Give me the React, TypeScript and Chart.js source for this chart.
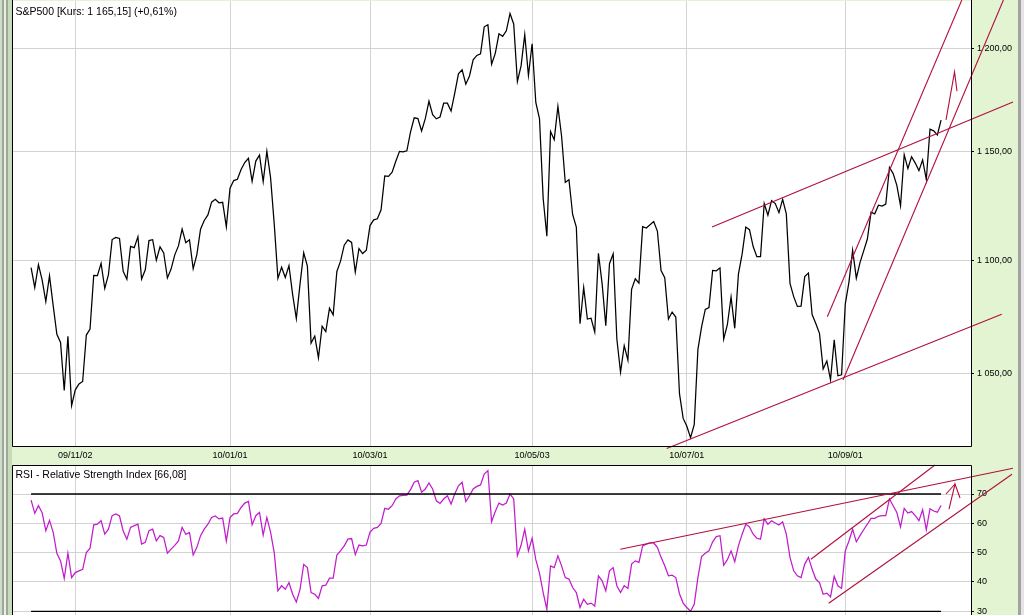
import React, { useEffect, useRef } from "react";
import { Chart, registerables } from "chart.js";

Chart.register(...registerables);

// Daily S&P500 closes, 15 Oct 2009 .. 8 Oct 2010 (index 0 = first trading day shown)
const closes: number[] = [
  1096.56, 1087.68, 1097.91, 1091.06, 1081.4, 1092.91, 1079.6, 1066.95, 1063.41, 1042.63, 1066.11, 1036.19,
  1042.88, 1045.41, 1046.5, 1066.63, 1069.3, 1093.08, 1093.01, 1098.51, 1087.24, 1093.48, 1109.3, 1110.32, 1109.8, 1094.9, 1091.38, 1106.24, 1105.65, 1110.63, 1091.49, 1095.63,
  1108.86, 1109.24, 1099.92, 1105.98, 1103.25, 1091.94, 1095.95, 1102.35, 1106.41, 1114.11, 1107.93, 1109.18, 1096.08, 1102.47, 1114.05, 1118.02, 1120.59, 1126.48, 1127.78, 1126.2, 1126.42, 1115.1,
  1132.99, 1136.52, 1137.14, 1141.69, 1144.98, 1146.98, 1136.22, 1145.68, 1148.46, 1136.03, 1150.23, 1138.04, 1116.48, 1091.76, 1096.78, 1092.17, 1097.5, 1084.53, 1073.87,
  1089.19, 1103.32, 1097.28, 1063.11, 1066.19, 1056.74, 1070.52, 1068.13, 1078.47, 1075.51, 1094.87, 1099.51, 1106.75, 1109.17, 1108.01, 1094.6, 1105.24, 1102.94, 1104.49,
  1115.71, 1118.31, 1118.79, 1122.97, 1138.7, 1138.5, 1140.45, 1145.61, 1150.24, 1149.99, 1150.51, 1159.46, 1166.21, 1165.83, 1159.9, 1165.81, 1174.17, 1167.72, 1165.73, 1166.59, 1173.22, 1173.27, 1169.43,
  1178.1, 1187.44, 1189.44, 1182.45, 1186.44, 1194.37, 1196.48, 1197.3, 1210.65, 1211.67, 1192.13, 1197.52, 1207.17, 1205.94, 1208.67, 1217.28, 1212.05, 1183.71, 1191.36, 1206.78, 1186.69,
  1202.26, 1173.6, 1165.87, 1128.15, 1110.88, 1159.73, 1155.79, 1171.67, 1157.44, 1135.68, 1136.94, 1120.8, 1115.05, 1071.59, 1087.69, 1073.65, 1074.03, 1067.95, 1103.06, 1089.41,
  1070.71, 1098.38, 1102.83, 1064.88, 1050.47, 1062.0, 1055.69, 1086.84, 1091.6, 1089.63, 1115.23, 1114.61, 1116.04, 1117.51, 1113.2, 1095.31, 1092.04, 1073.69, 1076.76, 1074.57, 1041.24, 1030.71,
  1027.37, 1022.58, 1028.06, 1060.27, 1070.25, 1077.96, 1078.75, 1095.34, 1095.17, 1096.48, 1064.88, 1071.25, 1083.48, 1069.59, 1093.67, 1102.66, 1115.01, 1113.84, 1106.13, 1101.53, 1101.6,
  1125.86, 1120.46, 1127.24, 1125.81, 1121.64, 1127.79, 1121.06, 1089.47, 1083.61, 1079.25, 1079.38, 1092.54, 1094.16, 1075.63, 1071.69, 1067.36, 1051.87, 1055.33, 1047.22, 1064.59, 1048.92, 1049.33,
  1080.29, 1090.1, 1104.51, 1091.84, 1098.87, 1104.18, 1109.55, 1121.9, 1121.1, 1125.07, 1124.66, 1125.59, 1142.71, 1139.78, 1134.28, 1124.83, 1148.67, 1142.16, 1147.7, 1144.73, 1141.2,
  1146.24, 1137.03, 1160.75, 1159.97, 1158.06, 1165.15,
];

// RSI values, same day index as closes
const rsiValues: number[] = [
  67.9, 63.4, 66.0, 63.6, 57.5, 61.0, 56.9, 49.8, 47.2, 41.2, 49.8, 41.5,
  43.2, 43.8, 44.3, 50.0, 51.5, 59.5,
  59.7, 60.9, 56.3, 58.0, 62.6, 63.2,
  62.5, 57.4, 54.6, 58.6, 59.2, 59.7,
  52.9, 53.5, 57.5, 58.0, 54.0, 55.8,
  55.2, 49.8, 51.2, 52.5, 54.0, 58.6,
  56.3, 56.8, 49.2, 51.8, 55.8, 58.0,
  59.7, 62.0, 62.5, 61.5, 61.8, 54.0,
  62.0, 63.2, 63.4, 65.4, 66.9, 67.5,
  59.5, 62.6, 63.7, 56.0, 62.0, 57.0,
  50.0, 37.0, 38.7, 37.5, 39.8, 35.8,
  33.2, 37.5, 46.0, 44.9, 36.4, 35.8,
  34.4, 38.7, 38.9, 41.3, 41.3, 49.2,
  50.6, 52.3, 54.6, 54.8, 49.3, 52.6,
  52.3, 52.6, 57.0, 58.3, 58.6, 60.0,
  65.1, 64.8, 66.0, 68.3, 69.4, 69.5,
  69.6, 71.5, 74.0, 74.6, 70.6, 71.7,
  73.8, 71.7, 67.7, 66.8, 68.3, 69.4,
  66.6, 70.0, 72.8, 74.0, 67.4, 69.4,
  71.7, 72.6, 73.1, 76.8, 78.0,
  60.5, 64.0, 66.9, 66.2, 66.9, 70.0,
  68.3, 49.0, 52.5, 58.0, 50.6, 54.9,
  47.6, 43.0, 36.4, 30.7, 45.5, 44.9,
  48.9, 45.5, 41.5, 41.0, 38.1, 36.4,
  31.3, 34.1, 32.4, 32.8, 31.8, 42.1,
  40.4, 37.0, 43.8, 44.9, 38.7, 36.4,
  38.7, 37.8, 46.1, 47.2, 46.7, 52.3,
  52.9, 53.3, 53.3, 51.8, 48.4, 45.5,
  42.1, 42.3, 41.5, 36.0, 32.8, 31.3,
  30.0, 32.4, 41.5, 48.7, 49.8, 50.6,
  53.7, 55.5, 55.8, 45.7, 47.6, 50.6,
  46.9, 52.3, 56.3, 59.7, 58.8, 56.3,
  54.9, 54.6, 61.5, 59.7, 60.9, 60.1,
  59.4, 60.5, 56.3, 48.4, 43.8, 42.1,
  41.5, 46.1, 48.4, 44.4, 41.0, 39.8,
  35.8, 36.2, 34.9, 41.9, 38.7, 37.8,
  50.6, 54.0, 58.0, 53.7, 55.8, 57.8,
  59.7, 61.7, 61.7, 62.4, 62.6, 62.6,
  68.3, 66.0, 63.7, 58.8, 65.1, 63.5,
  64.0, 62.6, 60.9, 64.6, 57.8,
  65.0, 64.2, 63.8, 66.1,
];

const xTickIndex: number[] = [12, 54, 92, 136, 178, 221];
const xTickLabels: string[] = ["09/11/02", "10/01/01", "10/03/01", "10/05/03", "10/07/01", "10/09/01"];
const priceTicks: number[] = [1050, 1100, 1150, 1200];
const rsiTicks: number[] = [30, 40, 50, 60, 70];
const rsiLevels: number[] = [70, 30];

// Hand-drawn trend lines, in (day index, value) coordinates
const priceTrendLines: number[][][] = [
  [[172.53, 1018.1], [263.47, 1075.8]],
  [[184.83, 1115.1], [266.53, 1173.8]],
  [[216.13, 1074.7], [252.64, 1224.05]],
  [[220.39, 1047.1], [263.93, 1224.05]],
  [[248.35, 1165.2], [250.66, 1188.4], [251.33, 1179.1]],
];
const rsiTrendLines: number[][][] = [
  [[159.94, 51.14], [266.53, 78.76]],
  [[211.67, 47.73], [245.35, 79.89]],
  [[216.5, 32.73], [266.26, 76.72]],
  [[249.16, 64.88], [250.79, 73.41], [252.15, 68.64]],
  [[248.35, 70.0], [250.79, 73.41]],
];

const priceTitle = "S&P500 [Kurs: 1 165,15] (+0,61%)";
const rsiTitle = "RSI - Relative Strength Index [66,08]";

const X_MIN = -5.18;
const X_MAX = 255.13;
const BG = "#e2f4d2";
const GRID = "#d3d3d3";
const TREND = "#b0103c";
const RSI_COLOR = "#c01ccc";
const FONT = "'Liberation Sans', Arial, sans-serif";

const fmtPrice = (v: number) => {
  const [i, d] = v.toFixed(2).split(".");
  return i.replace(/\B(?=(\d{3})+(?!\d))/g, " ") + "," + d;
};

const panelPlugin = (title: string, baseline: number, topBorder: boolean) => ({
  id: "panel",
  beforeDraw(chart: any) {
    const { ctx, chartArea: a } = chart;
    ctx.save();
    ctx.fillStyle = "#ffffff";
    ctx.fillRect(a.left, a.top, a.right - a.left, a.bottom - a.top);
    ctx.restore();
  },
  afterDraw(chart: any) {
    const { ctx, chartArea: a } = chart;
    ctx.save();
    ctx.strokeStyle = "#000";
    ctx.lineWidth = 1;
    ctx.beginPath();
    const l = Math.round(a.left) + 0.5;
    const r = Math.round(a.right) + 0.5;
    const t = Math.round(a.top) + 0.5;
    const b = Math.round(a.bottom) + 0.5;
    if (topBorder) {
      ctx.moveTo(l, b + 2);
      ctx.lineTo(l, t);
      ctx.lineTo(r, t);
      ctx.lineTo(r, b + 2);
    } else {
      ctx.moveTo(l, 0);
      ctx.lineTo(l, b);
      ctx.lineTo(r, b);
      ctx.lineTo(r, 0);
    }
    ctx.stroke();
    ctx.fillStyle = "#000";
    ctx.font = `10.5px ${FONT}`;
    ctx.textBaseline = "alphabetic";
    ctx.textAlign = "left";
    ctx.fillText(title, 15.5, baseline);
    ctx.restore();
  },
});

const lineDs = (pts: number[][], color: string, clip: boolean, width = 1) => ({
  data: pts.map(([x, y]) => ({ x, y })),
  borderColor: color,
  borderWidth: width,
  pointRadius: 0,
  fill: false,
  tension: 0,
  clip: clip ? undefined : false,
});

export default function App() {
  const topRef = useRef<HTMLCanvasElement>(null);
  const botRef = useRef<HTMLCanvasElement>(null);

  useEffect(() => {
    Chart.defaults.font.family = FONT;

    const xCommon = (showLabels: boolean, height: number) => ({
      type: "linear",
      position: "bottom",
      min: X_MIN,
      max: X_MAX,
      bounds: "data",
      afterBuildTicks: (s: any) => {
        s.ticks = xTickIndex.map((v) => ({ value: v }));
      },
      afterFit: (s: any) => {
        s.height = height;
        s.paddingLeft = 0;
        s.paddingRight = 0;
      },
      grid: { color: GRID, drawTicks: false, lineWidth: 1 },
      border: { display: false },
      ticks: {
        display: showLabels,
        padding: 4,
        color: "#000",
        font: { size: 9 },
        maxRotation: 0,
        autoSkip: false,
        callback: (_v: any, i: number) => xTickLabels[i],
      },
    });

    const top = new Chart(topRef.current as HTMLCanvasElement, {
      type: "line",
      data: {
        datasets: [
          ...priceTrendLines.map((seg) => lineDs(seg, TREND, false, 1.1)),
          lineDs(closes.map((v, i) => [i, v]), "#000", true, 1.25),
        ] as any,
      },
      options: {
        responsive: false,
        animation: false,
        events: [],
        layout: { padding: { left: 12, top: 1, right: 0, bottom: 0 } },
        plugins: { legend: { display: false }, tooltip: { enabled: false } },
        scales: {
          x: xCommon(true, 17) as any,
          y: {
            type: "logarithmic",
            position: "right",
            min: 1019.1,
            max: 1223.55,
            bounds: "data",
            afterBuildTicks: (s: any) => {
              s.ticks = priceTicks.map((v) => ({ value: v }));
            },
            afterFit: (s: any) => {
              s.width = 53;
              s.paddingTop = 0;
              s.paddingBottom = 0;
            },
            grid: { color: GRID, tickColor: "#000", tickLength: 3, drawTicks: true },
            border: { display: false },
            ticks: { padding: 3, color: "#000", font: { size: 9 }, callback: (v: any) => fmtPrice(Number(v)) },
          } as any,
        },
      },
      plugins: [panelPlugin(priceTitle, 15, false)],
    });

    const bot = new Chart(botRef.current as HTMLCanvasElement, {
      type: "line",
      data: {
        datasets: [
          ...rsiTrendLines.map((seg) => lineDs(seg, TREND, false, 1.1)),
          ...rsiLevels.map((lv) => lineDs([[0, lv], [rsiValues.length - 1, lv]], "#000", true, 1.3)),
          lineDs(rsiValues.map((v, i) => [i, v]), RSI_COLOR, true, 1.25),
        ] as any,
      },
      options: {
        responsive: false,
        animation: false,
        events: [],
        layout: { padding: { left: 12, top: 2, right: 0, bottom: 0 } },
        plugins: { legend: { display: false }, tooltip: { enabled: false } },
        scales: {
          x: xCommon(false, 0) as any,
          y: {
            type: "linear",
            position: "right",
            min: 28.74,
            max: 79.89,
            bounds: "data",
            afterBuildTicks: (s: any) => {
              s.ticks = rsiTicks.map((v) => ({ value: v }));
            },
            afterFit: (s: any) => {
              s.width = 53;
              s.paddingTop = 0;
              s.paddingBottom = 0;
            },
            grid: { color: GRID, tickColor: "#000", tickLength: 3, drawTicks: true },
            border: { display: false },
            ticks: { padding: 3, color: "#000", font: { size: 9 }, callback: (v: any) => String(v) },
          } as any,
        },
      },
      plugins: [panelPlugin(rsiTitle, 15, true)],
    });

    return () => {
      top.destroy();
      bot.destroy();
    };
  }, []);

  const stripe = (left: number, width: number, color: string) => (
    <div style={{ position: "absolute", left, top: 0, width, height: 615, background: color }} />
  );

  return (
    <div style={{ position: "fixed", left: 0, top: 0, width: 1024, height: 615, background: BG, overflow: "hidden" }}>
      {stripe(0, 2, "#cfdcc8")}
      {stripe(2, 2, "#9ea69e")}
      {stripe(4, 2, "#e6f2de")}
      {stripe(6, 2, "#9ea69e")}
      {stripe(8, 4, "#c6dcb6")}
      {stripe(1018, 3, "#a2a2a2")}
      {stripe(1021, 3, "#e4e4e4")}
      <canvas ref={topRef} width={1024} height={463} style={{ position: "absolute", left: 0, top: 0 }} />
      <canvas ref={botRef} width={1024} height={152} style={{ position: "absolute", left: 0, top: 463 }} />
    </div>
  );
}
